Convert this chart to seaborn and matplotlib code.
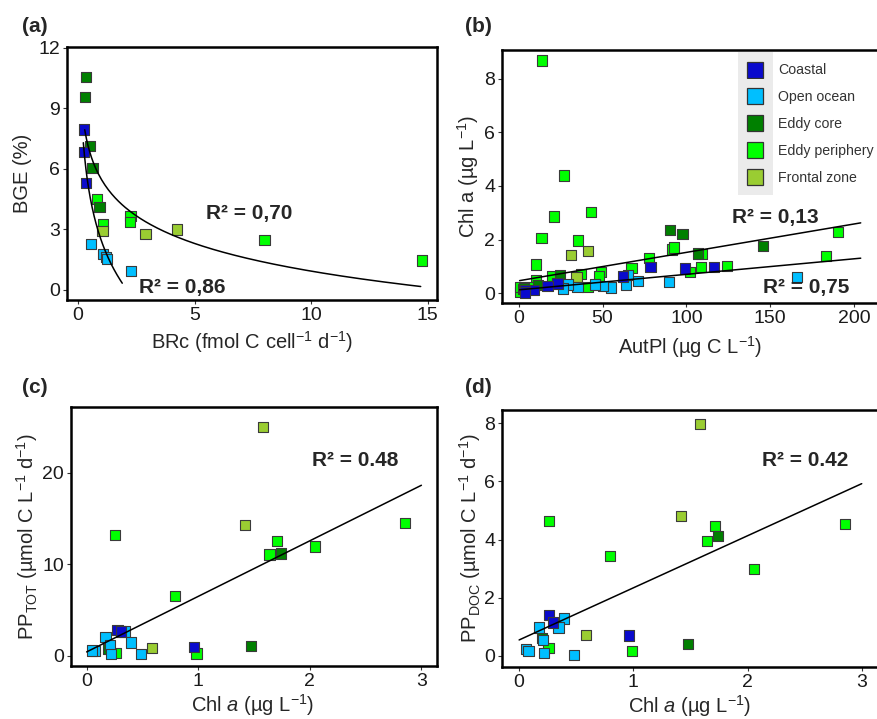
import numpy as np
import pandas as pd
import matplotlib
matplotlib.use("Agg")
import matplotlib.pyplot as plt
from matplotlib.lines import Line2D
from matplotlib.patches import Rectangle
from matplotlib.legend_handler import HandlerBase
import seaborn as sns

# groups: CO coastal, OO open ocean, EC eddy core, EP eddy periphery, FZ frontal zone
group_names = {"CO": "Coastal", "OO": "Open ocean", "EC": "Eddy core",
               "EP": "Eddy periphery", "FZ": "Frontal zone"}
group_colors = {"CO": "#0A0ACD", "OO": "#00BFFF", "EC": "#008000",
                "EP": "#00FF00", "FZ": "#9ACD32"}

# (a) BGE vs BRc
a_group = ["EP", "EP", "EP", "EP", "EP", "EP",
           "EC", "EC", "EC", "EC", "EC",
           "FZ", "FZ", "FZ",
           "OO", "OO", "OO", "OO", "OO",
           "CO", "CO", "CO"]
a_brc = [0.83, 1.09, 2.25, 2.23, 8.00, 14.74,
         0.36, 0.31, 0.52, 0.62, 0.92,
         1.05, 2.90, 4.25,
         0.55, 1.08, 1.20, 1.25, 2.28,
         0.27, 0.27, 0.35]
a_bge = [4.50, 3.25, 3.66, 3.35, 2.48, 1.46,
         10.55, 9.57, 7.14, 6.06, 4.12,
         2.94, 2.76, 3.00,
         2.28, 1.78, 1.62, 1.55, 0.95,
         7.96, 6.83, 5.32]
# log fits y = a + b*ln(x): (a, b, xmin, xmax)
a_fit_upper = (5.49, -1.98, 0.29, 14.7)
a_fit_lower = (2.45, -3.30, 0.23, 1.90)

# (b) Chl a vs AutPl
b_group = (["EP"] * 27 + ["EC"] * 7 + ["FZ"] * 3 + ["OO"] * 11 + ["CO"] * 9)
b_autpl = [13.7, 27.0, 20.9, 43.3, 13.6, 35.4, 10.5, 91.2, 92.7, 77.8,
           190.3, 183.3, 124.4, 109.0, 108.7, 102.1, 67.3, 49.0, 48.0, 37.0,
           41.0, 20.1, 10.5, 0.6, 0.6, 6.6, 2.5,
           90.1, 97.7, 145.5, 106.7, 24.5, 11.3, 3.0,
           31.4, 41.4, 34.4,
           166.2, 89.6, 71.2, 63.9, 65.3, 55.0, 50.3, 45.4, 35.0, 29.5, 26.5,
           78.6, 99.1, 116.6, 62.3, 23.1, 17.1, 9.2, 3.6, 3.6]
b_chla = [8.69, 4.39, 2.86, 3.02, 2.06, 1.96, 1.07, 1.63, 1.70, 1.32,
          2.27, 1.38, 1.00, 1.47, 0.98, 0.79, 0.93, 0.80, 0.63, 0.70,
          0.24, 0.65, 0.49, 0.05, 0.24, 0.24, 0.15,
          2.35, 2.20, 1.75, 1.48, 0.67, 0.30, 0.20,
          1.42, 1.58, 0.61,
          0.61, 0.42, 0.46, 0.30, 0.67, 0.21, 0.26, 0.32, 0.24, 0.32, 0.17,
          0.96, 0.92, 0.96, 0.62, 0.36, 0.26, 0.11, 0.11, 0.02]
# linear fits y = a + b*x: (a, b, xmin, xmax)
b_fit_upper = (0.46, 0.0106, 0.5, 204.0)
b_fit_lower = (0.12, 0.0058, 0.5, 204.0)

# (c) PP_TOT vs Chl a  and  (d) PP_DOC vs Chl a
cd_group = ["EP", "EP", "EP", "EP", "EP", "EP", "EP", "EP",
            "EC", "EC", "EC",
            "FZ", "FZ", "FZ",
            "OO", "OO", "OO", "OO", "OO", "OO", "OO", "OO",
            "CO", "CO", "CO"]
c_chla = [0.255, 1.704, 1.638, 2.049, 2.850, 0.789, 0.984, 0.260,
          1.743, 1.473, 0.190,
          1.584, 1.419, 0.587,
          0.340, 0.168, 0.395, 0.207, 0.216, 0.072, 0.050, 0.485,
          0.960, 0.276, 0.310]
c_pptot = [13.24, 12.60, 11.08, 11.96, 14.50, 6.54, 0.26, 0.36,
           11.20, 1.10, 0.73,
           25.05, 14.30, 0.84,
           2.66, 2.04, 1.46, 1.20, 0.22, 0.50, 0.60, 0.22,
           0.99, 2.84, 2.66]
c_fit = (0.44, 6.07, 0.0, 3.0)

d_chla = [0.260, 1.713, 1.643, 2.057, 2.854, 0.797, 0.986, 0.257,
          1.745, 1.476, 0.198,
          1.584, 1.415, 0.586,
          0.396, 0.175, 0.344, 0.210, 0.220, 0.059, 0.082, 0.484,
          0.963, 0.265, 0.300]
d_ppdoc = [4.65, 4.47, 3.95, 2.99, 4.53, 3.43, 0.18, 0.26,
           4.13, 0.41, 0.63,
           7.98, 4.81, 0.72,
           1.29, 0.98, 0.98, 0.55, 0.09, 0.23, 0.17, 0.03,
           0.70, 1.40, 1.15]
d_fit = (0.55, 1.79, 0.0, 3.0)

sns.set_theme(style="white")
plt.rcParams["font.family"] = ["Liberation Sans", "DejaVu Sans"]
plt.rcParams["mathtext.fontset"] = "custom"
plt.rcParams["mathtext.rm"] = "Liberation Sans"
plt.rcParams["mathtext.it"] = "Liberation Sans:italic"
plt.rcParams["mathtext.bf"] = "Liberation Sans:bold"

fig = plt.figure(figsize=(8.77, 7.19), dpi=100)
ax_a = fig.add_axes([0.0764, 0.5828, 0.4219, 0.3519])
ax_b = fig.add_axes([0.5724, 0.5786, 0.4310, 0.3519])
ax_c = fig.add_axes([0.0810, 0.0737, 0.4173, 0.3602])
ax_d = fig.add_axes([0.5724, 0.0723, 0.4310, 0.3574])

LABEL_SIZE = 14.5


def scatter(ax, x, y, grp):
    df = pd.DataFrame({"x": x, "y": y, "g": grp})
    sns.scatterplot(data=df, x="x", y="y", hue="g", palette=group_colors,
                    marker="s", s=54, edgecolor="#3a3a3a", linewidth=0.8,
                    legend=False, ax=ax, zorder=3)


def log_fit(ax, fit):
    a, b, x0, x1 = fit
    xs = np.linspace(x0, x1, 200)
    ax.plot(xs, a + b * np.log(xs), color="black", lw=1.1, zorder=4)


def lin_fit(ax, fit):
    a, b, x0, x1 = fit
    xs = np.linspace(x0, x1, 50)
    ax.plot(xs, a + b * xs, color="black", lw=1.1, zorder=4)


def style(ax, xlim, ylim, xticks, yticks):
    ax.set_xlim(*xlim)
    ax.set_ylim(*ylim)
    ax.set_xticks(xticks)
    ax.set_yticks(yticks)
    for sp in ax.spines.values():
        sp.set_linewidth(1.8)
        sp.set_color("black")
    ax.tick_params(axis="both", which="major", direction="out", length=3,
                   width=0.8, color="#333333", labelsize=14,
                   labelcolor="#1a1a1a", pad=2, bottom=True, left=True)


class KeyHandler(HandlerBase):
    # grey square key background (ggplot style) with a square marker on top
    def create_artists(self, legend, orig_handle, xdescent, ydescent,
                       width, height, fontsize, trans):
        cx = width / 2 - xdescent
        cy = height / 2 - ydescent
        side = width * 1.3
        bg = Rectangle((cx - side / 2, cy - side / 2), side, side,
                       facecolor="#EBEBEB", edgecolor="none", transform=trans)
        mk = Line2D([cx], [cy], marker="s", linestyle="none", markersize=12.2,
                    markerfacecolor=orig_handle.get_markerfacecolor(),
                    markeredgecolor="#333333", markeredgewidth=0.9,
                    transform=trans)
        return [bg, mk]


# (a)
scatter(ax_a, a_brc, a_bge, a_group)
log_fit(ax_a, a_fit_upper)
log_fit(ax_a, a_fit_lower)
style(ax_a, (-0.47, 15.4), (-0.5, 12.05), [0, 5, 10, 15], [0, 3, 6, 9, 12])
ax_a.set_xlabel("BRc (fmol C cell$^{-1}$ d$^{-1}$)", fontsize=LABEL_SIZE, va="center")
ax_a.set_ylabel("BGE (%)", fontsize=LABEL_SIZE, va="center")
ax_a.xaxis.set_label_coords(0.5, -0.166)
ax_a.yaxis.set_label_coords(-0.119, 0.5)
ax_a.text(5.5, 3.8, "R² = 0,70", fontsize=15, fontweight="bold",
          ha="left", va="center")
ax_a.text(2.6, 0.1, "R² = 0,86", fontsize=15, fontweight="bold",
          ha="left", va="center")

# (b)
scatter(ax_b, b_autpl, b_chla, b_group)
lin_fit(ax_b, b_fit_upper)
lin_fit(ax_b, b_fit_lower)
style(ax_b, (-10, 215.5), (-0.37, 9.08), [0, 50, 100, 150, 200], [0, 2, 4, 6, 8])
ax_b.set_xlabel("AutPl (µg C L$^{-1}$)", fontsize=LABEL_SIZE, va="center")
ax_b.set_ylabel("Chl a (µg L$^{-1}$)", fontsize=LABEL_SIZE, va="center")
ax_b.xaxis.set_label_coords(0.497, -0.174)
ax_b.yaxis.set_label_coords(-0.09, 0.5)
ax_b.text(127, 2.84, "R² = 0,13", fontsize=15, fontweight="bold",
          ha="left", va="center")
ax_b.text(145.7, 0.19, "R² = 0,75", fontsize=15, fontweight="bold",
          ha="left", va="center", zorder=5)
handles = [Line2D([0], [0], marker="s", linestyle="none",
                  markerfacecolor=group_colors[k], label=group_names[k])
           for k in ["CO", "OO", "EC", "EP", "FZ"]]
leg = ax_b.legend(handles=handles, loc="upper left",
                  bbox_to_anchor=(0.635, 0.964), borderaxespad=0,
                  frameon=False, fontsize=10.2,
                  handler_map={Line2D: KeyHandler()},
                  handlelength=1.9, handleheight=1.9, handletextpad=0.65,
                  labelspacing=0.42, borderpad=0.0)
for t in leg.get_texts():
    t.set_color("#333333")

# (c)
scatter(ax_c, c_chla, c_pptot, cd_group)
lin_fit(ax_c, c_fit)
style(ax_c, (-0.14, 3.14), (-1.1, 27.2), [0, 1, 2, 3], [0, 10, 20])
ax_c.set_xlabel("Chl $a$ (µg L$^{-1}$)", fontsize=LABEL_SIZE, va="center")
ax_c.set_ylabel("PP$_{\\mathrm{TOT}}$ (µmol C L$^{-1}$ d$^{-1}$)",
                fontsize=LABEL_SIZE, va="center")
ax_c.xaxis.set_label_coords(0.497, -0.152)
ax_c.yaxis.set_label_coords(-0.12, 0.5)
ax_c.text(2.02, 21.4, "R² = 0.48", fontsize=15, fontweight="bold",
          ha="left", va="center")

# (d)
scatter(ax_d, d_chla, d_ppdoc, cd_group)
lin_fit(ax_d, d_fit)
style(ax_d, (-0.15, 3.16), (-0.38, 8.45), [0, 1, 2, 3], [0, 2, 4, 6, 8])
ax_d.set_xlabel("Chl $a$ (µg L$^{-1}$)", fontsize=LABEL_SIZE, va="center")
ax_d.set_ylabel("PP$_{\\mathrm{DOC}}$ (µmol C L$^{-1}$ d$^{-1}$)",
                fontsize=LABEL_SIZE, va="center")
ax_d.xaxis.set_label_coords(0.497, -0.150)
ax_d.yaxis.set_label_coords(-0.085, 0.5)
ax_d.text(2.13, 6.71, "R² = 0.42", fontsize=15, fontweight="bold",
          ha="left", va="center")

# panel letters
for x, y, lab in [(0.025, 0.976, "(a)"), (0.530, 0.976, "(b)"),
                  (0.025, 0.474, "(c)"), (0.530, 0.474, "(d)")]:
    fig.text(x, y, lab, fontsize=15, fontweight="bold", ha="left", va="top")

fig.savefig("out.png", dpi=100)
